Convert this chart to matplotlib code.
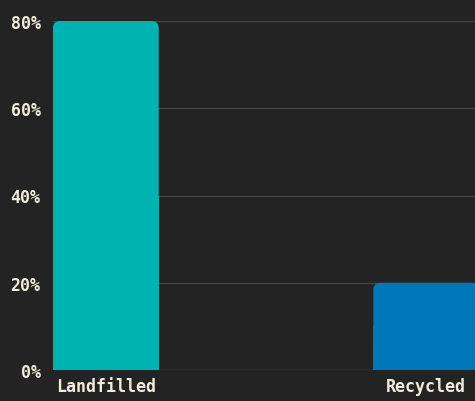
import matplotlib.pyplot as plt
from matplotlib.patches import FancyBboxPatch, Rectangle
from matplotlib.ticker import FuncFormatter

categories = ['Landfilled', 'Recycled']
shares = [80, 20]
colors = ['#00b3b3', '#0077b6']

bg = '#232323'
txt = '#f2ecdc'
grid_col = '#444444'

fig = plt.figure(figsize=(4.75, 4.02), dpi=100, facecolor=bg)
ax = fig.add_axes([53 / 475, 31 / 402, 426 / 475, 349 / 402], facecolor=bg)

width = 0.33
ax.set_xlim(-0.165, 1.165)
ax.set_ylim(0, 80)

# bars with rounded tops
r = 7 / 320
aspect = (7 / (349 / 80)) / r
for i, (v, c) in enumerate(zip(shares, colors)):
    x0 = i - width / 2
    ax.add_patch(FancyBboxPatch((x0, 0), width, v,
                                boxstyle=f'round,pad=0,rounding_size={r}',
                                mutation_aspect=aspect, fc=c, ec='none',
                                zorder=3, clip_on=False))
    ax.add_patch(Rectangle((x0, 0), width, v / 2, fc=c, ec='none', zorder=3))

ax.set_yticks([0, 20, 40, 60, 80])
ax.yaxis.set_major_formatter(FuncFormatter(lambda v, p: f'{v:.0f}%'))
ax.set_xticks(range(len(categories)))
ax.set_xticklabels(categories)
ax.grid(axis='y', color=grid_col, lw=1, zorder=0)
ax.set_axisbelow(True)
for s in ax.spines.values():
    s.set_visible(False)
ax.tick_params(length=0, colors=txt, labelsize=12)
ax.tick_params(axis='y', pad=9)
ax.tick_params(axis='x', pad=5)
for lab in ax.get_xticklabels() + ax.get_yticklabels():
    lab.set_family('DejaVu Sans Mono')
    lab.set_weight('bold')
    lab.set_color(txt)

fig.savefig('out.png', dpi=100, facecolor=bg)
